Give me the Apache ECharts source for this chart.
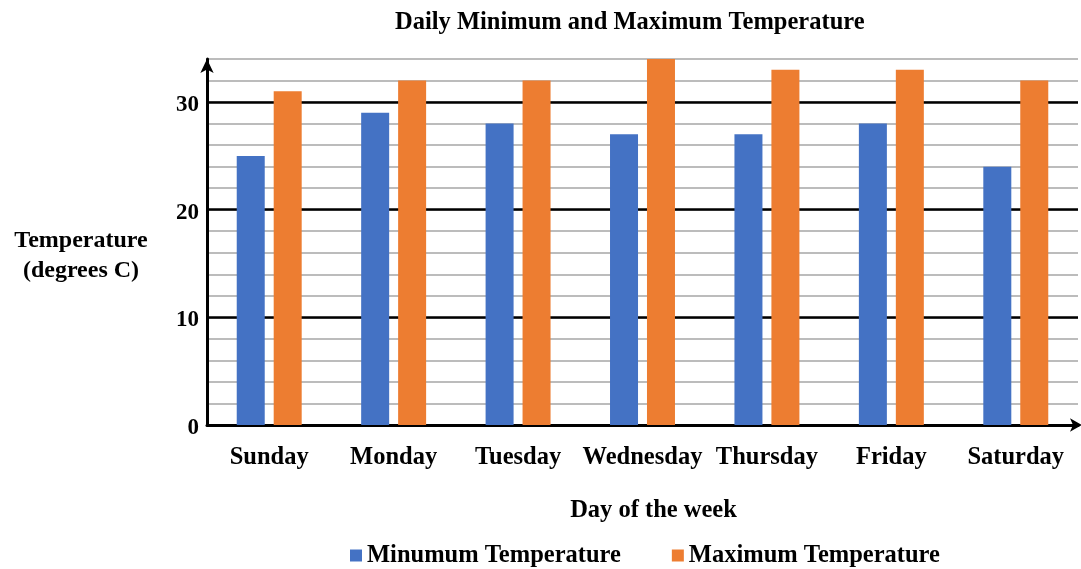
<!DOCTYPE html>
<html>
<head>
<meta charset="utf-8">
<style>html,body{margin:0;padding:0;background:#fff;}#c{width:1081px;height:569px;}</style>
<script src="https://cdn.jsdelivr.net/npm/echarts@6/dist/echarts.min.js"></script>
</head>
<body>
<div id="c"></div>
<script>
var days = ['Sunday','Monday','Tuesday','Wednesday','Thursday','Friday','Saturday'];
var minTemps = [25, 29, 28, 27, 27, 28, 24];
var maxTemps = [31, 32, 32, 34, 33, 33, 32];
var majorLines = [10, 20, 30];

var FONT = '"Liberation Serif", "Times New Roman", serif';
var chart = echarts.init(document.getElementById('c'), null, {renderer: 'canvas'});
chart.setOption({
  animation: false,
  title: {
    text: 'Daily Minimum and Maximum Temperature',
    left: 390, top: 5,
    textStyle: {fontFamily: FONT, fontWeight: 'bold', fontSize: 24.5, color: '#000'}
  },
  legend: {
    bottom: -4, left: 345,
    icon: 'rect', itemWidth: 12, itemHeight: 12, itemGap: 51,
    textStyle: {fontFamily: FONT, fontWeight: 'bold', fontSize: 24.5, color: '#000'},
    data: ['Minumum Temperature', 'Maximum Temperature']
  },
  graphic: [{
    type: 'text', x: 81, y: 226,
    style: {
      text: 'Temperature\n(degrees C)', align: 'center', verticalAlign: 'top', lineHeight: 30,
      font: 'bold 24px ' + FONT, fill: '#000'
    }
  }],
  grid: {left: 207, right: 3, top: 59, bottom: 144},
  xAxis: {
    type: 'category', data: days,
    name: 'Day of the week', nameLocation: 'middle', nameGap: 73,
    nameTextStyle: {fontFamily: FONT, fontWeight: 'bold', fontSize: 24.5, color: '#000', padding: [0, 0, 0, 22]},
    axisLine: {lineStyle: {color: '#000', width: 3}, symbol: ['none', 'arrow'], symbolSize: [10, 12], symbolOffset: [0, 4]},
    axisTick: {show: false},
    axisLabel: {interval: 0, fontFamily: FONT, fontWeight: 'bold', fontSize: 24.5, color: '#000', margin: 20}
  },
  yAxis: {
    type: 'value', min: 0, max: 34, interval: 2,
    axisLine: {show: true, lineStyle: {color: '#000', width: 3}, symbol: ['none', 'arrow'], symbolSize: [10, 14]},
    axisTick: {show: false},
    axisLabel: {
      margin: 8,
      formatter: function (v) { return v % 10 === 0 ? '{a|' + v + '}' : ''; },
      rich: {a: {fontFamily: FONT, fontWeight: 'bold', fontSize: 23, color: '#000', padding: [6, 0, 0, 0]}}
    },
    splitLine: {lineStyle: {color: '#a6a6a6', width: 1.5}}
  },
  series: [
    {
      name: 'Minumum Temperature', type: 'bar', data: minTemps,
      barWidth: 28, barGap: '32%',
      itemStyle: {color: '#4472C4'},
      markLine: {
        silent: true, symbol: 'none', label: {show: false},
        lineStyle: {color: '#000', width: 2.5, type: 'solid'},
        data: majorLines.map(function (v) { return {yAxis: v}; }),
        z: 1
      },
      z: 3
    },
    {
      name: 'Maximum Temperature', type: 'bar', data: maxTemps,
      barWidth: 28,
      itemStyle: {color: '#ED7D31'},
      z: 3
    }
  ]
});
</script>
</body>
</html>
